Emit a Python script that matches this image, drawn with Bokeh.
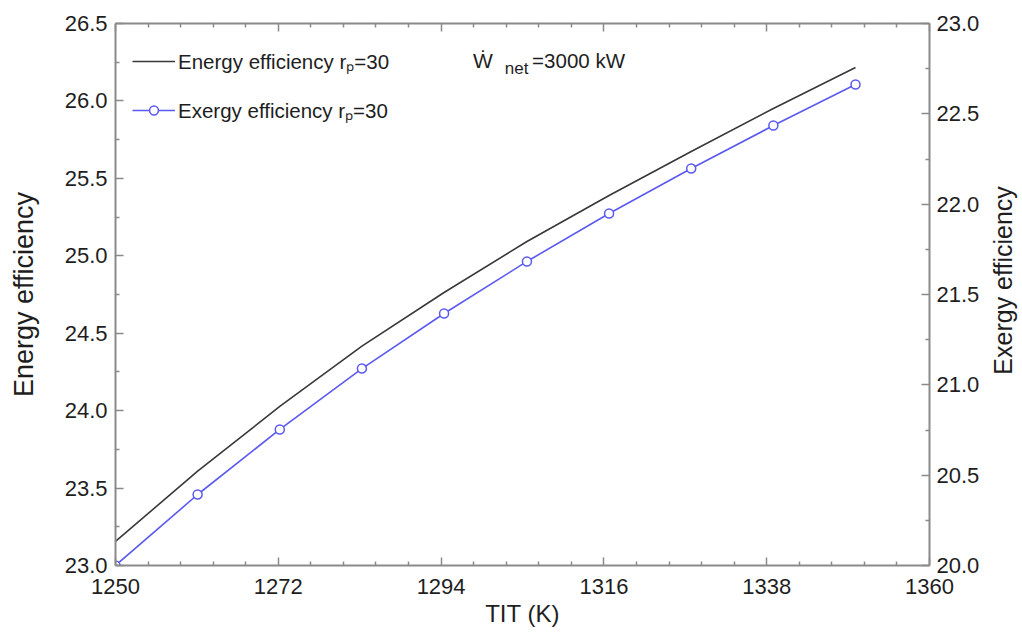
import math
from bokeh.plotting import figure
from bokeh.layouts import row
from bokeh.models import (Range1d, LinearAxis, FixedTicker, PrintfTickFormatter,
                          Legend, LegendItem, Label)
from bokeh.embed import file_html
from bokeh.resources import INLINE

# ---- data ----
tit = [1250.0, 1261.1, 1272.2, 1283.3, 1294.4, 1305.6, 1316.7, 1327.8, 1338.9, 1350.0]
energy_eff = [23.155, 23.610, 24.027, 24.417, 24.763, 25.092, 25.389, 25.673, 25.951, 26.216]
exergy_eff = [20.000, 20.393, 20.753, 21.090, 21.395, 21.683, 21.948, 22.197, 22.435, 22.662]

x_ticks = [1250, 1272, 1294, 1316, 1338, 1360]
left_ticks = [23.0, 23.5, 24.0, 24.5, 25.0, 25.5, 26.0, 26.5]
right_ticks = [20.0, 20.5, 21.0, 21.5, 22.0, 22.5, 23.0]

energy_label = "Energy efficiency r\u209a=30"
exergy_label = "Exergy efficiency r\u209a=30"
x_title = "TIT (K)"
left_title = "Energy efficiency"
right_title = "Exergy efficiency"

FONT = "Liberation Sans"
AXIS_COLOR = "#8a8a8a"
TEXT_COLOR = "#1e1e1e"
BLUE = "#5a5af0"
BLACK = "#383838"

p = figure(width=982, height=635,
           x_range=Range1d(x_ticks[0], x_ticks[-1]),
           y_range=Range1d(left_ticks[0], left_ticks[-1]),
           output_backend="svg", toolbar_location=None,
           min_border_left=115, min_border_right=52,
           min_border_top=23, min_border_bottom=70)
p.extra_y_ranges = {"ex": Range1d(right_ticks[0], right_ticks[-1])}
p.xgrid.visible = False
p.ygrid.visible = False
p.outline_line_color = None
p.background_fill_color = "white"
p.border_fill_color = "white"


def minors(ticks, n):
    out = []
    for a, b in zip(ticks[:-1], ticks[1:]):
        step = (b - a) / n
        out += [a + step * k for k in range(1, n)]
    return out


def style(ax):
    ax.axis_line_color = AXIS_COLOR
    ax.axis_line_width = 2
    ax.major_tick_line_color = AXIS_COLOR
    ax.minor_tick_line_color = AXIS_COLOR
    ax.major_tick_line_width = 1.5
    ax.minor_tick_line_width = 1.5
    ax.major_tick_in = 8
    ax.major_tick_out = 0
    ax.minor_tick_in = 4
    ax.minor_tick_out = 0
    ax.major_label_text_font = FONT
    ax.major_label_text_font_size = "22px"
    ax.major_label_text_color = TEXT_COLOR
    ax.axis_label_text_font = FONT
    ax.axis_label_text_font_style = "normal"
    ax.axis_label_text_color = TEXT_COLOR


x_ticker = FixedTicker(ticks=x_ticks, minor_ticks=minors(x_ticks, 5))
l_ticker = FixedTicker(ticks=left_ticks, minor_ticks=minors(left_ticks, 2))
r_ticker = FixedTicker(ticks=right_ticks, minor_ticks=minors(right_ticks, 2))

xb = p.xaxis[0]
style(xb)
xb.ticker = x_ticker
xb.axis_label = x_title
xb.axis_label_text_font_size = "24px"
xb.major_label_standoff = 13
xb.axis_label_standoff = 3

yl = p.yaxis[0]
style(yl)
yl.ticker = l_ticker
yl.formatter = PrintfTickFormatter(format="%.1f")
yl.axis_label = left_title
yl.axis_label_text_font_size = "27px"
yl.major_label_standoff = 8
yl.axis_label_standoff = 23

yr = LinearAxis(y_range_name="ex")
style(yr)
yr.ticker = r_ticker
yr.formatter = PrintfTickFormatter(format="%.1f")
yr.major_label_standoff = 7
p.add_layout(yr, "right")

xt = LinearAxis()
style(xt)
xt.ticker = x_ticker
xt.major_label_text_color = None
xt.major_label_text_font_size = "1px"
xt.major_label_standoff = 0
p.add_layout(xt, "above")

l1 = p.line(tit, energy_eff, line_color=BLACK, line_width=1.6)
l2 = p.line(tit, exergy_eff, line_color=BLUE, line_width=1.6, y_range_name="ex")
s2 = p.scatter(tit, exergy_eff, marker="circle", size=9, line_color=BLUE,
               fill_color="white", line_width=1.5, y_range_name="ex")

legend = Legend(items=[LegendItem(label=energy_label, renderers=[l1]),
                       LegendItem(label=exergy_label, renderers=[l2, s2])],
                location=(17, 441), orientation="vertical",
                glyph_width=43, glyph_height=22, label_height=22,
                label_standoff=3, spacing=21, padding=0, margin=0,
                border_line_color=None, background_fill_alpha=0,
                label_text_font=FONT, label_text_font_size="20.5px",
                label_text_color=TEXT_COLOR)
p.add_layout(legend)

# W-dot net annotation
p.add_layout(Label(x=1298.3, y=26.261, text="\u1e86", text_font=FONT,
                   text_font_size="21px", text_baseline="alphabetic",
                   text_color=TEXT_COLOR))
p.add_layout(Label(x=1302.6, y=26.210, text="net", text_font=FONT,
                   text_font_size="17px", text_baseline="alphabetic",
                   text_color=TEXT_COLOR))
p.add_layout(Label(x=1306.3, y=26.261, text="=3000 kW", text_font=FONT,
                   text_font_size="20.5px", text_baseline="alphabetic",
                   text_color=TEXT_COLOR))

# narrow side panel carrying the right-hand axis title (reads bottom-to-top)
p2 = figure(width=40, height=635, x_range=Range1d(0, 40), y_range=Range1d(0, 635),
            output_backend="svg", toolbar_location=None,
            x_axis_location=None, y_axis_location=None,
            min_border_left=0, min_border_right=0, min_border_top=0,
            min_border_bottom=0)
p2.xgrid.visible = False
p2.ygrid.visible = False
p2.outline_line_color = None
p2.background_fill_color = "white"
p2.border_fill_color = "white"
p2.add_layout(Label(x=20, y=334, text=right_title, text_font=FONT,
                    text_font_size="25px", text_align="center",
                    text_baseline="middle", angle=math.pi / 2,
                    text_color=TEXT_COLOR))

layout = row(p, p2, spacing=0)
open("out.html", "w").write(file_html(layout, INLINE))
